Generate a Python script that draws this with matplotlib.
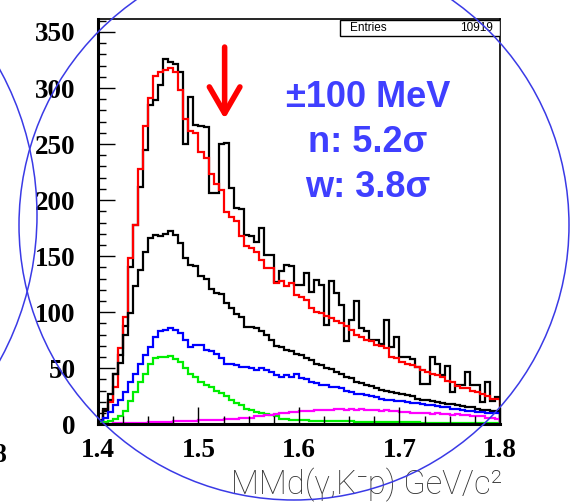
import numpy as np
import matplotlib
matplotlib.use("Agg")
import matplotlib.pyplot as plt
from matplotlib.patches import Circle, Rectangle
from matplotlib.ticker import MultipleLocator
from matplotlib.font_manager import FontProperties

# 80 bins of 5 MeV between 1.4 and 1.8 GeV
edges = np.linspace(1.4, 1.8, 81)

data_all = [4, 14, 22, 45, 62, 88, 140, 178, 212, 245,
            285, 289, 303, 326, 323, 321, 314, 250, 292, 267,
            266, 265, 206, 206, 250, 251, 211, 193, 192, 169,
            168, 163, 175, 151, 151, 127, 137, 142, 141, 124,
            124, 135, 118, 129, 124, 89, 128, 117, 106, 74,
            93, 110, 86, 83, 75, 75, 72, 93, 69, 78,
            60, 60, 58, 51, 36, 36, 60, 54, 44, 52,
            29, 35, 35, 47, 35, 35, 20, 38, 21, 24]

fit_total = [2, 12, 20, 33, 68, 96, 148, 178, 228, 266,
             291, 311, 314, 316, 318, 314, 298, 272, 262, 260,
             243, 238, 223, 214, 209, 189, 185, 181, 168, 159,
             157, 154, 147, 139, 139, 126, 128, 123, 126, 115,
             114, 111, 104, 100, 99, 97, 95, 92, 90, 88,
             84, 80, 78, 75, 74, 71, 70, 68, 60, 59,
             56, 54, 53, 51, 48, 47, 45, 44, 42, 39,
             38, 34, 32, 32, 30, 29, 27, 25, 23, 23]

data_cut = [3, 12, 27, 45, 55, 80, 99, 123, 138, 154,
            166, 169, 168, 170, 172, 169, 162, 148, 142, 141,
            132, 130, 121, 117, 116, 108, 104, 98, 96, 87,
            87, 86, 83, 80, 75, 70, 69, 66, 65, 63,
            62, 59, 57, 54, 53, 50, 49, 47, 45, 42,
            41, 38, 37, 35, 34, 32, 31, 30, 29, 28,
            27, 26, 25, 23, 22, 22, 21, 20, 19, 18,
            18, 17, 16, 15, 15, 14, 13, 13, 12, 12]

fit_blue = [2, 6, 11, 17, 22, 29, 38, 45, 54, 62,
            69, 78, 83, 84, 86, 84, 81, 75, 69, 71,
            71, 66, 65, 63, 59, 54, 54, 53, 51, 51,
            50, 48, 50, 48, 47, 44, 42, 44, 42, 45,
            41, 40, 38, 37, 35, 35, 33, 33, 32, 30,
            29, 27, 27, 26, 25, 24, 23, 22, 22, 21,
            21, 20, 19, 19, 18, 17, 17, 16, 15, 15,
            14, 14, 13, 12, 12, 11, 11, 10, 10, 10]

fit_green = [1, 2, 3, 5, 7, 12, 21, 29, 38, 45,
             54, 59, 60, 60, 61, 58, 56, 50, 45, 42,
             38, 35, 33, 30, 28, 25, 22, 19, 17, 14,
             13, 11, 10, 9, 8, 7, 5, 5, 4, 4,
             4, 4, 3, 3, 3, 3, 3, 3, 3, 3,
             3, 2, 2, 2, 2, 2, 2, 2, 2, 2,
             2, 2, 2, 2, 1, 1, 1, 1, 1, 1,
             1, 1, 1, 1, 1, 1, 1, 1, 1, 1]

fit_magenta = [0, 0, 0, 1, 1, 1, 1, 1, 1, 1,
               2, 2, 2, 2, 2, 3, 3, 3, 3, 3,
               4, 4, 4, 4, 4, 5, 5, 5, 6, 6,
               6, 7, 7, 8, 8, 9, 10, 10, 11, 11,
               12, 12, 12, 13, 13, 13, 13, 14, 14, 13,
               14, 13, 14, 13, 13, 13, 12, 13, 12, 12,
               11, 11, 10, 10, 10, 10, 9, 10, 9, 9,
               8, 9, 8, 8, 7, 7, 7, 6, 6, 5]

entries = 10919
arrow_mass = 1.526
arrow_from, arrow_to = 339, 270
info_lines = ["\u00b1100 MeV", "n: 5.2\u03c3", "w: 3.8\u03c3"]

W, H = 570, 504
fig = plt.figure(figsize=(W / 100, H / 100), dpi=100)
ax = fig.add_axes([98 / W, 79.7 / H, 402 / W, 405.8 / H])

ax.stairs(data_all, edges, baseline=0, color="black", lw=1.6)
ax.stairs(fit_total, edges, baseline=0, color="red", lw=1.6)
ax.stairs(data_cut, edges, baseline=0, color="black", lw=1.6)
ax.stairs(fit_blue, edges, baseline=0, color="blue", lw=1.6)
ax.stairs(fit_green, edges, baseline=0, color="#00ee00", lw=1.6)
ax.stairs(fit_magenta, edges, baseline=0, color="magenta", lw=1.6)

ax.set_xlim(1.4, 1.8)
ax.set_ylim(0, 362)
ax.set_xticks(np.arange(1.4, 1.81, 0.1))
ax.set_yticks(range(0, 351, 50))
ax.xaxis.set_minor_locator(MultipleLocator(0.025))
ax.yaxis.set_minor_locator(MultipleLocator(10))
ax.tick_params(which="both", direction="in", top=False, right=False, width=1.0)
ax.tick_params(which="major", length=12)
ax.tick_params(which="minor", length=6)
ax.tick_params(axis="y", pad=16)
ax.tick_params(axis="x", pad=10)
ax.set_xticklabels(["1.4", "1.5", "1.6", "1.7", "1.8"])

tick_font = FontProperties(family="Liberation Serif", weight="bold", size=19.5)
for lbl in ax.get_xticklabels() + ax.get_yticklabels():
    lbl.set_fontproperties(tick_font)

for side in ["left", "bottom"]:
    ax.spines[side].set_linewidth(2.2)
for side in ["top", "right"]:
    ax.spines[side].set_linewidth(1.2)

# statistics box
ax.add_patch(Rectangle((0.602, 0.956), 0.398, 0.041, transform=ax.transAxes,
                       facecolor="white", edgecolor="black", lw=1.0, zorder=5))
ax.text(0.628, 0.976, "Entries", transform=ax.transAxes, ha="left", va="center",
        fontsize=8.5, family="Liberation Sans", zorder=6)
ax.text(0.983, 0.976, str(entries), transform=ax.transAxes, ha="right", va="center",
        fontsize=8.5, family="Liberation Sans", zorder=6)

# arrow marking the peak
ax.annotate("", xy=(arrow_mass, arrow_to), xytext=(arrow_mass, arrow_from),
            arrowprops=dict(arrowstyle="->,head_length=0.95,head_width=0.55",
                            mutation_scale=20, color="red", lw=4))

for i, line in enumerate(info_lines):
    ax.text(0.672, 0.7815 - i * 0.1108, line, transform=ax.transAxes,
            ha="center", va="baseline", fontsize=26, fontweight="bold",
            family="Liberation Sans", color="#3f3fff")

fig.text(502 / W, (H - 494) / H, "MMd(\u03b3,K\u207bp) GeV/c\u00b2", ha="right",
         va="baseline", fontsize=23.5, color="#333333",
         family=["Roboto", "DejaVu Sans"], fontweight="light")

fig.text(8 / W, (H - 462) / H, "1.8", ha="right", va="baseline",
         fontproperties=tick_font)

# circles drawn on top in pixel coordinates
over = fig.add_axes([0, 0, 1, 1], zorder=10)
over.set_xlim(0, W)
over.set_ylim(H, 0)
over.axis("off")
over.patch.set_alpha(0)
over.add_patch(Circle((294, 225), 275, fill=False, edgecolor="#3a3ae6", lw=1.1))
over.add_patch(Circle((-266, 215), 303, fill=False, edgecolor="#3a3ae6", lw=1.1))

fig.savefig("out.png", dpi=100)
